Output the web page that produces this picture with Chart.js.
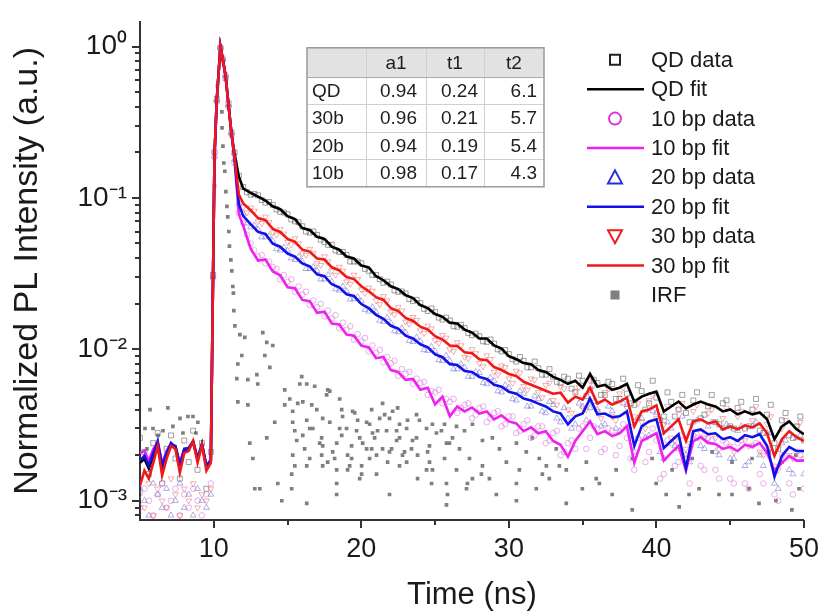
<!DOCTYPE html>
<html>
<head>
<meta charset="utf-8">
<title>PL decay</title>
<script src="https://cdn.jsdelivr.net/npm/chart.js@4.4.0/dist/chart.umd.min.js"></script>
<style>
  html, body { margin: 0; padding: 0; background: #fff; }
  #wrap { width: 824px; height: 614px; position: relative; }
</style>
</head>
<body>
<div id="wrap"><canvas id="plChart"></canvas></div>
<script>
// shared time grid (ns) for the measured traces and their fits
const timeNs = [
  5.0, 5.3, 5.6, 5.9, 6.2, 6.5, 6.8, 7.1, 7.4, 7.7, 8.0, 8.3, 8.6, 8.9, 9.2, 9.5, 9.8,
  9.95, 10.05, 10.2, 10.45, 10.6, 10.8, 11.0, 11.2, 11.4, 11.7,
  12, 12.5, 13, 13.5, 14, 14.5, 15, 15.5, 16, 16.5, 17, 17.5, 18, 18.5, 19, 19.5,
  20, 20.5, 21, 21.5, 22, 22.5, 23, 23.5, 24, 24.5, 25, 25.5, 26, 26.5, 27, 27.5,
  28, 28.5, 29, 29.5, 30, 30.5, 31, 31.5, 32, 32.5, 33, 33.5, 34, 34.5, 35, 35.5,
  36, 36.5, 37, 37.5, 38, 38.5, 39, 39.5, 40, 40.5, 41, 41.5, 42, 42.5, 43, 43.5,
  44, 44.5, 45, 45.5, 46, 46.5, 47, 47.5, 48, 48.5, 49, 49.5, 50
];

// in-between channels of the decay tail (data only)
const tailTimeNs = [
  12.25, 12.75, 13.25, 13.75, 14.25, 14.75, 15.25, 15.75, 16.25, 16.75, 17.25, 17.75,
  18.25, 18.75, 19.25, 19.75, 20.25, 20.75, 21.25, 21.75, 22.25, 22.75, 23.25, 23.75,
  24.25, 24.75, 25.25, 25.75, 26.25, 26.75, 27.25, 27.75, 28.25, 28.75, 29.25, 29.75,
  30.25, 30.75, 31.25, 31.75, 32.25, 32.75, 33.25, 33.75, 34.25, 34.75, 35.25, 35.75,
  36.25, 36.75, 37.25, 37.75, 38.25, 38.75, 39.25, 39.75, 40.25, 40.75, 41.25, 41.75,
  42.25, 42.75, 43.25, 43.75, 44.25, 44.75, 45.25, 45.75, 46.25, 46.75, 47.25, 47.75,
  48.25, 48.75, 49.25, 49.75
];

const qdFit = [
  0.00178, 0.00189, 0.00163, 0.00198, 0.00230, 0.00163, 0.00207, 0.00234, 0.00230, 0.00176, 0.00213, 0.00220, 0.00244, 0.00189, 0.00237, 0.00168, 0.00184,
  0.030, 0.19, 0.44, 1.0, 0.835, 0.64, 0.41, 0.267, 0.198, 0.138,
  0.115, 0.108, 0.102, 0.096, 0.088, 0.0842, 0.0758, 0.0725, 0.0633, 0.0614,
  0.0553, 0.0536, 0.0476, 0.0455, 0.0410, 0.0398, 0.0358, 0.0348, 0.0304, 0.0286,
  0.0261, 0.0250, 0.0228, 0.0218, 0.0196, 0.0187, 0.0171, 0.0164, 0.0150, 0.0148,
  0.0135, 0.0129, 0.0118, 0.0118, 0.0106, 0.0101, 0.00901, 0.00860, 0.00811, 0.00798,
  0.00730, 0.00708, 0.00657, 0.00628, 0.00592, 0.00619, 0.00558, 0.00687, 0.00566, 0.00583,
  0.00541, 0.00558, 0.00592, 0.00452, 0.00487, 0.00509, 0.00525, 0.00389, 0.00419, 0.00452,
  0.00407, 0.00432, 0.00452, 0.00432, 0.00419, 0.00389, 0.00401, 0.00372, 0.00389, 0.00372,
  0.00383, 0.00345, 0.00255, 0.00310, 0.00334, 0.00296, 0.00275
];

const bp10Fit = [
  0.00207, 0.00213, 0.00184, 0.00220, 0.00241, 0.00176, 0.00213, 0.00237, 0.00223, 0.00176, 0.00220, 0.00223, 0.00244, 0.00189, 0.00230, 0.00168, 0.00189,
  0.030, 0.19, 0.44, 1.0, 0.835, 0.64, 0.41, 0.267, 0.18, 0.0781,
  0.0652, 0.0462, 0.0386, 0.0392, 0.0327, 0.0308, 0.0257, 0.0253, 0.0212, 0.0208,
  0.0174, 0.0177, 0.0148, 0.0146, 0.0125, 0.0123, 0.0106, 0.0103, 0.00874, 0.00890,
  0.00730, 0.00708, 0.00628, 0.00637, 0.00541, 0.00558, 0.00432, 0.00487, 0.00361, 0.00419,
  0.00389, 0.00413, 0.00377, 0.00389, 0.00345, 0.00366, 0.00334, 0.00324, 0.00288, 0.00305,
  0.00279, 0.00288, 0.00248, 0.00234, 0.00195, 0.00248, 0.00288, 0.00334, 0.00275, 0.00288,
  0.00267, 0.00279, 0.00310, 0.00178, 0.00248, 0.00263, 0.00279, 0.00184, 0.00207, 0.00230,
  0.00158, 0.00248, 0.00263, 0.00241, 0.00237, 0.00220, 0.00227, 0.00213, 0.00234, 0.00227,
  0.00241, 0.00207, 0.00158, 0.00178, 0.00198, 0.00184, 0.00184
];

const bp20Fit = [
  0.00184, 0.00198, 0.00171, 0.00207, 0.00248, 0.00171, 0.00207, 0.00241, 0.00227, 0.00171, 0.00220, 0.00223, 0.00248, 0.00189, 0.00237, 0.00171, 0.00184,
  0.030, 0.19, 0.44, 1.0, 0.835, 0.64, 0.41, 0.267, 0.185, 0.0907,
  0.0758, 0.0672, 0.0596, 0.0578, 0.0498, 0.0476, 0.0429, 0.0410, 0.0369, 0.0353,
  0.0313, 0.0304, 0.0269, 0.0257, 0.0231, 0.0225, 0.0199, 0.0187, 0.0169, 0.0159,
  0.0143, 0.0137, 0.0123, 0.0118, 0.0108, 0.0103, 0.00927, 0.00887, 0.00798, 0.00787,
  0.00719, 0.00708, 0.00657, 0.00637, 0.00583, 0.00566, 0.00525, 0.00509, 0.00473, 0.00459,
  0.00438, 0.00419, 0.00389, 0.00377, 0.00319, 0.00361, 0.00377, 0.00473, 0.00372, 0.00377,
  0.00356, 0.00361, 0.00389, 0.00230, 0.00310, 0.00334, 0.00345, 0.00223, 0.00248, 0.00275,
  0.00163, 0.00288, 0.00296, 0.00275, 0.00279, 0.00255, 0.00263, 0.00248, 0.00271, 0.00263,
  0.00275, 0.00230, 0.00144, 0.00198, 0.00227, 0.00213, 0.00213
];

const bp30Fit = [
  0.00126, 0.00158, 0.00140, 0.00178, 0.00230, 0.00147, 0.00189, 0.00230, 0.00220, 0.00153, 0.00207, 0.00213, 0.00248, 0.00178, 0.00234, 0.00158, 0.00178,
  0.030, 0.19, 0.44, 1.0, 0.835, 0.64, 0.41, 0.267, 0.19, 0.105,
  0.0918, 0.0829, 0.0736, 0.0714, 0.0624, 0.0596, 0.0536, 0.0513, 0.0455, 0.0442,
  0.0398, 0.0392, 0.0348, 0.0332, 0.0300, 0.0291, 0.0261, 0.0242, 0.0221, 0.0212,
  0.0187, 0.0179, 0.0161, 0.0154, 0.0141, 0.0135, 0.0122, 0.0116, 0.0106, 0.0105,
  0.00956, 0.00942, 0.00860, 0.00848, 0.00764, 0.00730, 0.00687, 0.00667, 0.00610, 0.00583,
  0.00558, 0.00533, 0.00509, 0.00517, 0.00445, 0.00487, 0.00466, 0.00558, 0.00438, 0.00466,
  0.00432, 0.00452, 0.00480, 0.00310, 0.00389, 0.00401, 0.00426, 0.00279, 0.00310, 0.00345,
  0.00248, 0.00334, 0.00345, 0.00324, 0.00334, 0.00296, 0.00310, 0.00296, 0.00315, 0.00305,
  0.00324, 0.00279, 0.00198, 0.00255, 0.00288, 0.00263, 0.00248
];

const qdData = [
  0.0026, 0.0021, 0.0015, 0.0024, 0.0028, 0.0013, 0.0022, 0.0027, 0.0019, 0.0014, 0.0025, 0.0018, 0.0029, 0.0016, 0.0024, 0.0012, 0.0021,
  0.031, 0.2, 0.45, 0.98, 0.82, 0.62, 0.42, 0.27, 0.2, 0.14,
  0.118, 0.105, 0.104, 0.093, 0.090, 0.081, 0.078, 0.070, 0.065, 0.059,
  0.057, 0.051, 0.049, 0.044, 0.042, 0.038, 0.037, 0.033, 0.031, 0.0275,
  0.0268, 0.0240, 0.0234, 0.0208, 0.0202, 0.0179, 0.0176, 0.0157, 0.0155, 0.0141,
  0.0138, 0.0124, 0.0122, 0.0112, 0.0109, 0.0097, 0.0093, 0.0083, 0.0084, 0.0076,
  0.0075, 0.0068, 0.0066, 0.0060, 0.0064, 0.0052, 0.0062, 0.0054, 0.0060, 0.0050,
  0.0059, 0.0047, 0.0051, 0.0043, 0.0053, 0.0044, 0.0048, 0.0036, 0.0045, 0.0040,
  0.0038, 0.0046, 0.0035, 0.0042, 0.0033, 0.0044, 0.0031, 0.0041, 0.0030, 0.0040,
  0.0029, 0.0037, 0.0024, 0.0034, 0.0027, 0.0031, 0.0025
];
const qdDataTail = [
  0.109, 0.106, 0.097, 0.094, 0.084, 0.080, 0.072, 0.069, 0.060, 0.060, 0.053, 0.049,
  0.045, 0.044, 0.038, 0.038, 0.034, 0.031, 0.029, 0.028, 0.0245, 0.0241, 0.0215, 0.0212,
  0.0185, 0.0186, 0.0162, 0.0162, 0.0142, 0.0145, 0.0128, 0.0127, 0.0113, 0.0116, 0.0100, 0.0099,
  0.0086, 0.0089, 0.0076, 0.0083, 0.0068, 0.0074, 0.0061, 0.0066, 0.0055, 0.0067, 0.0049, 0.0063,
  0.0050, 0.0061, 0.0047, 0.0064, 0.0044, 0.0058, 0.0040, 0.0062, 0.0034, 0.0052, 0.0036, 0.0050,
  0.0033, 0.0052, 0.0037, 0.0050, 0.0032, 0.0046, 0.0030, 0.0045, 0.0031, 0.0047, 0.0028, 0.0043,
  0.0022, 0.0038, 0.0026, 0.0036
];

const bp10Data = [
  0.0009, 0.0012, 0.0010, 0.0008, 0.0011, 0.0013, 0.0009, 0.0010, 0.0012, 0.0008, 0.0011, 0.0009, 0.0012, 0.0010, 0.0008, 0.0011, 0.0013,
  0.031, 0.2, 0.43, 0.98, 0.84, 0.65, 0.4, 0.26, 0.17, 0.08,
  0.068, 0.050, 0.041, 0.037, 0.035, 0.029, 0.028, 0.024, 0.023, 0.0196,
  0.0190, 0.0165, 0.0160, 0.0138, 0.0135, 0.0116, 0.0113, 0.0097, 0.0095, 0.0082,
  0.0081, 0.0067, 0.0069, 0.0059, 0.0060, 0.0050, 0.0052, 0.0044, 0.0045, 0.0038,
  0.0043, 0.0035, 0.0041, 0.0033, 0.0038, 0.0031, 0.0036, 0.0028, 0.0032, 0.0026,
  0.0031, 0.0024, 0.0028, 0.0020, 0.0024, 0.0022, 0.0031, 0.0026, 0.0030, 0.0022,
  0.0029, 0.0023, 0.0026, 0.0016, 0.0027, 0.0021, 0.0025, 0.0015, 0.0024, 0.0018,
  0.0019, 0.0027, 0.0017, 0.0026, 0.0016, 0.0025, 0.0014, 0.0024, 0.0013, 0.0023,
  0.0015, 0.0022, 0.0011, 0.0020, 0.0013, 0.0021, 0.0012
];
const bp10DataTail = [
  0.057, 0.045, 0.042, 0.038, 0.034, 0.031, 0.029, 0.026, 0.024, 0.021, 0.020, 0.018,
  0.0168, 0.0150, 0.0142, 0.0126, 0.0119, 0.0106, 0.0099, 0.0089, 0.0084, 0.0074, 0.0071, 0.0064,
  0.0061, 0.0053, 0.0054, 0.0047, 0.0047, 0.0041, 0.0044, 0.0037, 0.0042, 0.0035, 0.0039, 0.0032,
  0.0036, 0.0029, 0.0034, 0.0027, 0.0031, 0.0025, 0.0029, 0.0021, 0.0025, 0.0030, 0.0022, 0.0031,
  0.0021, 0.0030, 0.0020, 0.0032, 0.0019, 0.0026, 0.0018, 0.0030, 0.0014, 0.0025, 0.0017, 0.0027,
  0.0013, 0.0026, 0.0016, 0.0025, 0.0014, 0.0024, 0.0013, 0.0025, 0.0012, 0.0024, 0.0013, 0.0021,
  0.0010, 0.0019, 0.0011, 0.0020
];

const bp20Data = [
  0.0012, 0.0010, 0.0008, 0.0013, 0.0011, 0.0009, 0.0012, 0.0008, 0.0010, 0.0013, 0.0009, 0.0011, 0.0008, 0.0012, 0.0010, 0.0009, 0.0011,
  0.03, 0.19, 0.44, 0.99, 0.83, 0.64, 0.41, 0.27, 0.18, 0.092,
  0.079, 0.064, 0.062, 0.055, 0.052, 0.045, 0.045, 0.039, 0.038, 0.034,
  0.033, 0.029, 0.028, 0.0245, 0.0242, 0.0215, 0.0208, 0.0178, 0.0176, 0.0152,
  0.0149, 0.0130, 0.0129, 0.0112, 0.0113, 0.0098, 0.0097, 0.0084, 0.0084, 0.0074,
  0.0076, 0.0066, 0.0070, 0.0059, 0.0062, 0.0052, 0.0056, 0.0046, 0.0051, 0.0042,
  0.0047, 0.0038, 0.0043, 0.0033, 0.0035, 0.0032, 0.0042, 0.0041, 0.0040, 0.0032,
  0.0039, 0.0029, 0.0043, 0.0021, 0.0035, 0.0027, 0.0038, 0.0019, 0.0030, 0.0022,
  0.0020, 0.0033, 0.0023, 0.0031, 0.0021, 0.0030, 0.0019, 0.0029, 0.0017, 0.0031,
  0.0020, 0.0028, 0.0013, 0.0024, 0.0016, 0.0026, 0.0015
];
const bp20DataTail = [
  0.068, 0.066, 0.055, 0.056, 0.046, 0.047, 0.040, 0.041, 0.034, 0.035, 0.029, 0.031,
  0.025, 0.026, 0.0214, 0.0222, 0.0183, 0.0190, 0.0155, 0.0162, 0.0132, 0.0138, 0.0114, 0.0120,
  0.0099, 0.0104, 0.0085, 0.0091, 0.0074, 0.0080, 0.0066, 0.0071, 0.0060, 0.0065, 0.0053, 0.0058,
  0.0047, 0.0053, 0.0042, 0.0049, 0.0039, 0.0045, 0.0035, 0.0041, 0.0030, 0.0044, 0.0034, 0.0045,
  0.0031, 0.0042, 0.0030, 0.0044, 0.0027, 0.0035, 0.0026, 0.0039, 0.0021, 0.0033, 0.0023, 0.0036,
  0.0018, 0.0034, 0.0022, 0.0033, 0.0020, 0.0032, 0.0019, 0.0031, 0.0018, 0.0033, 0.0017, 0.0028,
  0.0012, 0.0025, 0.0015, 0.0027
];

const bp30Data = [
  0.0011, 0.0009, 0.0013, 0.0008, 0.0012, 0.0010, 0.0009, 0.0014, 0.0011, 0.0008, 0.0012, 0.0010, 0.0013, 0.0009, 0.0011, 0.0010, 0.0012,
  0.029, 0.18, 0.43, 0.97, 0.8, 0.63, 0.4, 0.26, 0.19, 0.115,
  0.087, 0.086, 0.070, 0.075, 0.059, 0.062, 0.051, 0.054, 0.043, 0.046,
  0.037, 0.041, 0.033, 0.035, 0.028, 0.031, 0.0248, 0.0255, 0.0210, 0.0224,
  0.0177, 0.0190, 0.0152, 0.0163, 0.0133, 0.0143, 0.0115, 0.0124, 0.0100, 0.0111,
  0.0089, 0.0100, 0.0081, 0.0091, 0.0071, 0.0078, 0.0064, 0.0072, 0.0057, 0.0064,
  0.0052, 0.0058, 0.0046, 0.0057, 0.0040, 0.0053, 0.0041, 0.0062, 0.0039, 0.0052,
  0.0036, 0.0051, 0.0041, 0.0036, 0.0033, 0.0046, 0.0035, 0.0032, 0.0026, 0.0040,
  0.0022, 0.0039, 0.0028, 0.0038, 0.0026, 0.0035, 0.0023, 0.0036, 0.0025, 0.0034,
  0.0021, 0.0032, 0.0017, 0.0030, 0.0020, 0.0031, 0.0019
];
const bp30DataTail = [
  0.080, 0.082, 0.068, 0.069, 0.057, 0.058, 0.049, 0.050, 0.042, 0.043, 0.036, 0.038,
  0.031, 0.033, 0.027, 0.029, 0.0235, 0.0243, 0.0198, 0.0210, 0.0170, 0.0180, 0.0147, 0.0156,
  0.0128, 0.0137, 0.0110, 0.0119, 0.0097, 0.0106, 0.0087, 0.0094, 0.0077, 0.0086, 0.0068, 0.0076,
  0.0060, 0.0070, 0.0054, 0.0063, 0.0048, 0.0060, 0.0043, 0.0055, 0.0038, 0.0056, 0.0040, 0.0058,
  0.0035, 0.0055, 0.0034, 0.0056, 0.0031, 0.0044, 0.0030, 0.0050, 0.0027, 0.0042, 0.0025, 0.0044,
  0.0024, 0.0043, 0.0026, 0.0040, 0.0022, 0.0041, 0.0021, 0.0039, 0.0023, 0.0042, 0.0020, 0.0036,
  0.0016, 0.0034, 0.0019, 0.0033
];

// instrument response: [time ns, normalized counts]
const irfPoints = [
  [5.34, 0.0030], [5.47, 0.0022], [5.68, 0.0040], [5.88, 0.0030], [6.22, 0.0027], [6.56, 0.0029],
  [6.89, 0.0041], [7.23, 0.0031], [7.71, 0.0035], [7.91, 0.0028], [8.25, 0.0036], [8.59, 0.0036],
  [8.79, 0.0028], [8.92, 0.0033],
  [10.05, 0.12], [10.25, 0.55], [10.45, 1.0],
  [10.55, 0.37], [10.56, 0.29], [10.62, 0.22], [10.68, 0.17], [10.75, 0.15], [10.82, 0.11],
  [10.89, 0.088], [10.95, 0.075], [11.02, 0.060], [11.06, 0.048], [11.16, 0.039], [11.22, 0.033],
  [11.29, 0.026], [11.33, 0.0235], [11.36, 0.018], [11.43, 0.0143],
  [11.56, 0.0064], [11.63, 0.0080], [11.63, 0.0045], [11.77, 0.0125], [11.90, 0.0091], [12.10, 0.0120],
  [12.31, 0.0063], [12.31, 0.0043], [12.44, 0.0024], [12.65, 0.0019], [12.78, 0.0012], [12.92, 0.0068],
  [12.98, 0.0059], [13.12, 0.0012], [13.32, 0.0129], [13.46, 0.0091], [13.59, 0.0111], [13.59, 0.0026],
  [13.80, 0.0076], [14.00, 0.0106], [14.13, 0.0033], [14.34, 0.0013], [14.61, 0.0010], [14.81, 0.0054],
  [14.81, 0.0043], [15.15, 0.0047], [15.28, 0.0015], [15.28, 0.0012], [15.35, 0.0039], [15.35, 0.0033],
  [15.35, 0.0020], [15.49, 0.0029], [15.49, 0.0017], [15.62, 0.0025], [15.69, 0.0044], [15.83, 0.0059],
  [15.96, 0.0066], [16.03, 0.0045], [16.03, 0.0027], [16.16, 0.0022], [16.30, 0.0059], [16.30, 0.0034],
  [16.30, 0.0017], [16.30, 0.00096], [16.50, 0.0030], [16.50, 0.0019], [16.64, 0.0043], [16.71, 0.0030],
  [16.84, 0.0057], [16.98, 0.0040], [17.18, 0.0024], [17.31, 0.0026], [17.31, 0.0020], [17.38, 0.0035],
  [17.38, 0.0023], [17.38, 0.0017], [17.65, 0.0050], [17.72, 0.0054], [17.72, 0.0018], [17.86, 0.0053],
  [17.86, 0.0033], [18.06, 0.0021], [18.19, 0.0019], [18.33, 0.0024], [18.33, 0.0016], [18.33, 0.0013],
  [18.33, 0.0011], [18.53, 0.0047], [18.53, 0.0030], [18.67, 0.0040], [18.67, 0.0027], [18.73, 0.0036],
  [19.00, 0.0030], [19.07, 0.0020], [19.07, 0.0016], [19.21, 0.0017], [19.34, 0.0023], [19.34, 0.0019],
  [19.41, 0.0039], [19.55, 0.0038], [19.68, 0.0029], [19.75, 0.0034], [19.89, 0.0026], [19.89, 0.0014],
  [20.02, 0.0017], [20.02, 0.0015], [20.09, 0.0024], [20.36, 0.0033], [20.36, 0.0022], [20.56, 0.0032],
  [20.56, 0.0019], [20.70, 0.0040], [20.70, 0.0022], [20.76, 0.0028], [20.90, 0.0026], [21.03, 0.0020],
  [21.03, 0.0015], [21.10, 0.0029], [21.24, 0.0035], [21.44, 0.0044], [21.44, 0.0022], [21.58, 0.0037],
  [21.71, 0.0029], [21.78, 0.0018], [21.91, 0.0035], [21.91, 0.0021], [21.91, 0.0011], [22.05, 0.0022],
  [22.12, 0.0039], [22.39, 0.0029], [22.39, 0.0025], [22.46, 0.0041], [22.59, 0.0032], [22.59, 0.0026],
  [22.59, 0.0017], [22.79, 0.0020], [22.93, 0.0021], [23.07, 0.0030], [23.07, 0.0018], [23.13, 0.0034],
  [23.40, 0.0022], [23.47, 0.0025], [23.74, 0.0037], [23.74, 0.0026], [23.81, 0.0020], [23.81, 0.0014],
  [23.94, 0.0034], [24.42, 0.0030], [24.42, 0.0016], [24.49, 0.0021], [24.62, 0.0023], [24.62, 0.0018],
  [24.76, 0.0013], [24.82, 0.0032], [24.82, 0.0016], [25.09, 0.0028], [25.43, 0.0029], [25.64, 0.0032],
  [25.64, 0.0019], [25.77, 0.0024], [25.77, 0.0013], [25.77, 0.00094], [25.84, 0.0011], [25.97, 0.0024],
  [26.18, 0.0026], [26.45, 0.0031], [26.45, 0.0016], [26.65, 0.0022], [26.99, 0.0029], [27.13, 0.0012],
  [27.19, 0.0013], [27.33, 0.0019], [27.53, 0.0032], [27.53, 0.0014], [28.14, 0.0015], [28.21, 0.0025],
  [28.21, 0.0017], [28.68, 0.0014], [28.88, 0.0026], [29.15, 0.0011], [29.36, 0.0022], [29.83, 0.0018],
  [30.51, 0.0024], [30.51, 0.0013], [30.51, 0.0010], [30.71, 0.0016], [31.18, 0.0021], [31.59, 0.0026],
  [31.86, 0.0012], [32.06, 0.0019], [32.27, 0.0015], [32.54, 0.0017], [32.74, 0.0014], [33.21, 0.0022],
  [33.42, 0.0017], [33.89, 0.0016], [33.89, 0.00096], [34.98, 0.0012], [35.25, 0.0018], [35.92, 0.0014],
  [36.13, 0.0013], [37.00, 0.0011], [37.27, 0.0016], [38.36, 0.0019], [38.36, 0.00087], [39.71, 0.0019],
  [39.98, 0.0013], [40.66, 0.0011], [41.06, 0.0016], [41.54, 0.00091], [42.21, 0.0011], [42.42, 0.0019],
  [42.89, 0.0012], [43.77, 0.0021], [44.24, 0.0011], [45.12, 0.0018], [45.12, 0.0011], [46.27, 0.0012],
  [46.48, 0.0019], [46.95, 0.00096], [47.63, 0.0021], [48.10, 0.0010], [48.51, 0.0018], [49.18, 0.00087],
  [49.45, 0.0020], [49.66, 0.0012]
];

const xTickValues = [10, 20, 30, 40, 50];
const xMinorTicks = [15, 25, 35, 45];
const yTickValues = [0.001, 0.01, 0.1, 1];
const yTickLabels = ['10⁻³', '10⁻²', '10⁻¹', '10⁰'];

// bi-exponential fit parameters
const tableColumns = ['', 'a1', 't1', 't2'];
const tableSamples = ['QD', '30b', '20b', '10b'];
const tableA1 = [0.94, 0.96, 0.94, 0.98];
const tableT1 = [0.24, 0.21, 0.19, 0.17];
const tableT2 = [6.1, 5.7, 5.4, 4.3];

const FONT = "'Liberation Sans', Arial, Helvetica, sans-serif";
Chart.defaults.font.family = FONT;
Chart.defaults.color = '#1a1a1a';

function toPoints(xs, ys) {
  return ys.map((y, i) => ({ x: xs[i], y }));
}

function markerSet(label, values, tail, style, color, legendColor, radius, rotation, order) {
  return {
    label, data: toPoints(timeNs, values).concat(toPoints(tailTimeNs, tail)), showLine: false,
    pointStyle: style, pointRotation: rotation, pointRadius: radius,
    pointBorderColor: color, pointBackgroundColor: 'rgba(0,0,0,0)', pointBorderWidth: 1,
    borderColor: color, legendColor, order
  };
}

function fitLine(label, values, color, order) {
  return {
    label, data: toPoints(timeNs, values), showLine: true, pointRadius: 0,
    borderColor: color, borderWidth: 2.6, tension: 0, legendColor: color, order
  };
}

const datasets = [
  markerSet('QD data', qdData, qdDataTail, 'rect', 'rgba(70,70,70,0.5)', '#222', 3.5, 0, 8),
  fitLine('QD fit', qdFit, '#000000', 4),
  markerSet('10 bp data', bp10Data, bp10DataTail, 'circle', 'rgba(215,110,215,0.55)', '#dd33dd', 2.8, 0, 7),
  fitLine('10 bp fit', bp10Fit, '#f020f0', 3),
  markerSet('20 bp data', bp20Data, bp20DataTail, 'triangle', 'rgba(110,110,215,0.55)', '#2a2ae0', 3.4, 0, 6),
  fitLine('20 bp fit', bp20Fit, '#1212e8', 2),
  markerSet('30 bp data', bp30Data, bp30DataTail, 'triangle', 'rgba(230,110,110,0.55)', '#e82020', 3.4, 180, 5),
  fitLine('30 bp fit', bp30Fit, '#f01818', 1),
  {
    label: 'IRF', data: irfPoints.map(p => ({ x: p[0], y: p[1] })), showLine: false,
    pointStyle: 'rect', pointRadius: 2.6, pointBackgroundColor: '#7f7f7f', pointBorderWidth: 0,
    borderColor: '#7f7f7f', legendColor: '#7f7f7f', order: 9
  }
];

function legendSymbol(ctx, style, rotation, x, y) {
  ctx.beginPath();
  if (style === 'rect') {
    ctx.rect(x - 5, y - 5, 10, 10);
  } else if (style === 'circle') {
    ctx.arc(x, y, 6, 0, Math.PI * 2);
  } else if (style === 'triangle') {
    const s = rotation === 180 ? -1 : 1;
    ctx.moveTo(x, y - 7 * s);
    ctx.lineTo(x + 7, y + 6 * s);
    ctx.lineTo(x - 7, y + 6 * s);
    ctx.closePath();
  }
}

// outward tick marks on the left and bottom axes
const axisTicks = {
  id: 'axisTicks',
  afterDraw(chart) {
    const { ctx, chartArea: a, scales: { x, y } } = chart;
    ctx.save();
    ctx.strokeStyle = '#333';
    ctx.lineWidth = 2;
    ctx.beginPath();
    for (let e = -4; e <= 0; e++) {
      for (let m = 1; m <= 9; m++) {
        const v = m * Math.pow(10, e);
        if (v < y.min || v > y.max) continue;
        const py = Math.round(y.getPixelForValue(v));
        const len = m === 1 ? 8 : 5;
        ctx.moveTo(a.left, py);
        ctx.lineTo(a.left - len, py);
      }
    }
    xTickValues.forEach(v => {
      const px = Math.round(x.getPixelForValue(v));
      ctx.moveTo(px, a.bottom);
      ctx.lineTo(px, a.bottom + 8);
    });
    xMinorTicks.forEach(v => {
      const px = Math.round(x.getPixelForValue(v));
      ctx.moveTo(px, a.bottom);
      ctx.lineTo(px, a.bottom + 5);
    });
    ctx.stroke();
    ctx.restore();
  }
};

// vertical legend inside the plot, built from the datasets
const legendBox = {
  id: 'legendBox',
  afterDraw(chart) {
    const { ctx, chartArea: a } = chart;
    ctx.save();
    ctx.font = '22px ' + FONT;
    ctx.textBaseline = 'middle';
    chart.data.datasets.forEach((ds, i) => {
      const yy = a.top + 38 + i * 29.4;
      const cx = a.left + 475;
      if (ds.showLine) {
        ctx.strokeStyle = ds.legendColor;
        ctx.lineWidth = 2.5;
        ctx.beginPath();
        ctx.moveTo(a.left + 447, yy);
        ctx.lineTo(a.left + 504, yy);
        ctx.stroke();
      } else if (ds.label === 'IRF') {
        ctx.fillStyle = ds.legendColor;
        ctx.fillRect(cx - 4.5, yy - 4.5, 9, 9);
      } else {
        ctx.strokeStyle = ds.legendColor;
        ctx.lineWidth = 2;
        legendSymbol(ctx, ds.pointStyle, ds.pointRotation, cx, yy);
        ctx.stroke();
      }
      ctx.fillStyle = '#1a1a1a';
      ctx.fillText(ds.label, a.left + 511, yy + 1);
    });
    ctx.restore();
  }
};

// fit parameter table in the upper middle of the plot
const paramTable = {
  id: 'paramTable',
  afterDraw(chart) {
    const { ctx, chartArea: a } = chart;
    const cols = [167, 226, 286, 344, 404].map(v => a.left + v);
    const rows = [26, 55, 82.5, 110, 137.5, 165].map(v => a.top + v);
    const w = cols[4] - cols[0];
    const h = rows[5] - rows[0];
    ctx.save();
    ctx.fillStyle = '#ffffff';
    ctx.fillRect(cols[0], rows[0], w, h);
    ctx.fillStyle = '#e2e2e2';
    ctx.fillRect(cols[0], rows[0], w, rows[1] - rows[0]);

    ctx.strokeStyle = '#d0d0d0';
    ctx.lineWidth = 1;
    ctx.beginPath();
    for (let i = 1; i < 4; i++) {
      ctx.moveTo(Math.round(cols[i]) + 0.5, rows[0]);
      ctx.lineTo(Math.round(cols[i]) + 0.5, rows[5]);
    }
    for (let j = 2; j < 5; j++) {
      ctx.moveTo(cols[0], Math.round(rows[j]) + 0.5);
      ctx.lineTo(cols[4], Math.round(rows[j]) + 0.5);
    }
    ctx.stroke();
    ctx.strokeStyle = '#a8a8a8';
    ctx.beginPath();
    ctx.moveTo(cols[0], Math.round(rows[1]) + 0.5);
    ctx.lineTo(cols[4], Math.round(rows[1]) + 0.5);
    ctx.stroke();
    ctx.lineWidth = 1.5;
    ctx.strokeStyle = '#9a9a9a';
    ctx.strokeRect(cols[0], rows[0], w, h);

    ctx.font = '19px ' + FONT;
    ctx.fillStyle = '#1e1e1e';
    ctx.textBaseline = 'middle';
    ctx.textAlign = 'center';
    tableColumns.forEach((c, i) => {
      ctx.fillText(c, (cols[i] + cols[i + 1]) / 2, (rows[0] + rows[1]) / 2 + 1);
    });
    tableSamples.forEach((s, r) => {
      const cy = (rows[r + 1] + rows[r + 2]) / 2 + 1;
      ctx.textAlign = 'left';
      ctx.fillText(s, cols[0] + 5, cy);
      ctx.textAlign = 'right';
      ctx.fillText(tableA1[r].toFixed(2), cols[2] - 9, cy);
      ctx.fillText(tableT1[r].toFixed(2), cols[3] - 6, cy);
      ctx.fillText(tableT2[r].toFixed(1), cols[4] - 7, cy);
    });
    ctx.restore();
  }
};

const ctx = document.getElementById('plChart').getContext('2d');
window.plChart = new Chart(ctx, {
  type: 'scatter',
  data: { datasets },
  options: {
    responsive: true,
    maintainAspectRatio: false,
    animation: false,
    layout: { padding: { top: 15, right: 19, bottom: 0, left: 0 } },
    plugins: {
      legend: { display: false },
      tooltip: { enabled: false }
    },
    scales: {
      x: {
        type: 'linear',
        min: 5,
        max: 50,
        afterBuildTicks: (axis) => { axis.ticks = xTickValues.map(v => ({ value: v })); },
        afterFit: (axis) => { axis.height = 94; },
        grid: { display: false, drawTicks: true, tickLength: 8 },
        border: { display: true, color: '#333', width: 2 },
        ticks: { color: '#1a1a1a', font: { size: 27 }, padding: 5, maxRotation: 0 },
        title: { display: true, text: 'Time (ns)', color: '#1a1a1a', font: { size: 31 }, padding: { top: 0, bottom: 0 } }
      },
      y: {
        type: 'logarithmic',
        min: 0.000746,
        max: 1.456,
        afterBuildTicks: (axis) => { axis.ticks = yTickValues.map(v => ({ value: v })); },
        afterFit: (axis) => { axis.width = 140; },
        grid: { display: false, drawTicks: true, tickLength: 8 },
        border: { display: true, color: '#333', width: 2 },
        ticks: {
          color: '#1a1a1a',
          font: { size: 28 },
          padding: 5,
          callback: (value) => yTickLabels[yTickValues.indexOf(value)] ?? ''
        },
        title: { display: true, text: 'Normalized PL Intensity (a.u.)', color: '#1a1a1a', font: { size: 34 }, padding: { top: 7, bottom: 0 } }
      }
    }
  },
  plugins: [axisTicks, paramTable, legendBox]
});
</script>
</body>
</html>
